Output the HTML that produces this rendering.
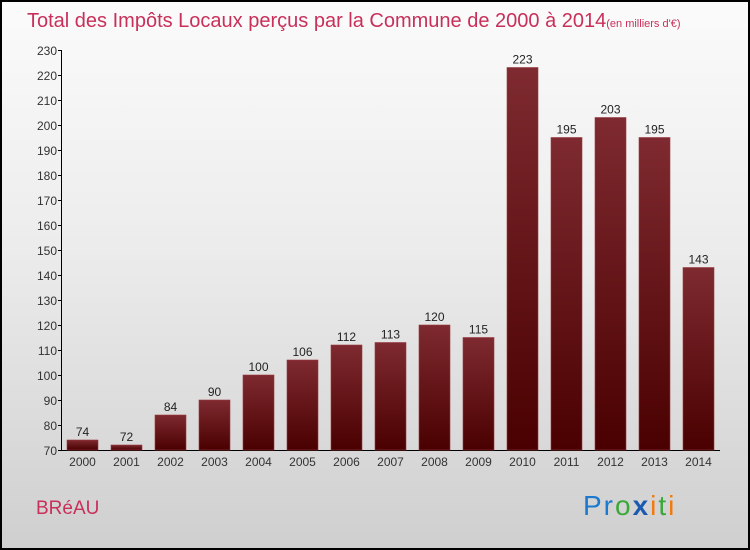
<!DOCTYPE html>
<html><head><meta charset="utf-8"><style>
html,body{margin:0;padding:0}
body{width:750px;height:550px;overflow:hidden;font-family:"Liberation Sans",sans-serif}
#wrap{position:relative;width:746px;height:546px;border:2px solid #000;background:linear-gradient(#fbfbfb 0%,#ececec 45%,#cfcfcf 100%)}
</style></head><body>
<div id="wrap">
<svg id="chart" width="746" height="546" viewBox="2 2 746 546" style="position:absolute;left:0;top:0">
<defs><linearGradient id="bg" x1="0" y1="0" x2="0" y2="1"><stop offset="0" stop-color="#7e2a30"/><stop offset="1" stop-color="#4a0000"/></linearGradient></defs>
<text x="27" y="27" font-size="20" fill="#c8305a">Total des Impôts Locaux perçus par la Commune de 2000 à 2014<tspan font-size="11">(en milliers d'€)</tspan></text>
<g id="axes"></g><g id="bars"></g>
<text x="36" y="514" font-size="19" fill="#c8305a">BRéAU</text>
<text x="583" y="515" font-size="28" letter-spacing="2"><tspan fill="#1a7ad0">Pr</tspan><tspan fill="#3aa83a">o</tspan><tspan fill="#1a5ab0" font-weight="bold">x</tspan><tspan fill="#f07a10">i</tspan><tspan fill="#3aa83a">t</tspan><tspan fill="#f07a10">i</tspan></text>
</svg>
</div>
<script>
const years=["2000","2001","2002","2003","2004","2005","2006","2007","2008","2009","2010","2011","2012","2013","2014"];
const values=[74,72,84,90,100,106,112,113,120,115,223,195,203,195,143];
const yTicks=[70,80,90,100,110,120,130,140,150,160,170,180,190,200,210,220,230];
const NS="http://www.w3.org/2000/svg";
const y=v=>450-(v-70)*2.5;
const x=i=>67+44*i;
function mk(t,a,p){const e=document.createElementNS(NS,t);for(const k in a)e.setAttribute(k,a[k]);p.appendChild(e);return e;}
const ax=document.getElementById('axes'),bg=document.getElementById('bars');
const yl=mk('line',{x1:61.5,y1:y(230),x2:61.5,y2:450.5,stroke:'#000','stroke-width':1},ax);


const xl=mk('line',{x1:61,y1:450.5,x2:720,y2:450.5,stroke:'#000','stroke-width':1},ax);


yTicks.forEach(v=>{
 mk('line',{x1:58,y1:y(v)+.5,x2:62,y2:y(v)+.5,stroke:'#000'},ax);
 const t=mk('text',{x:57,y:y(v)+5,'text-anchor':'end','font-size':12,fill:'#333'},ax);t.textContent=v;
 
 
});
values.forEach((v,i)=>{
 const r=mk('rect',{x:x(i),y:y(v),width:31,height:450-y(v),fill:'url(#bg)',stroke:'#9a3a40','stroke-width':0.6},bg);
 
 
 const t=mk('text',{x:x(i)+15.5,y:y(v)-4,'text-anchor':'middle','font-size':12,fill:'#222'},bg);t.textContent=v;
 
 
 const l=mk('text',{x:x(i)+15.5,y:466,'text-anchor':'middle','font-size':12,fill:'#333'},bg);l.textContent=years[i];
 
 
});
</script>
</body></html>
